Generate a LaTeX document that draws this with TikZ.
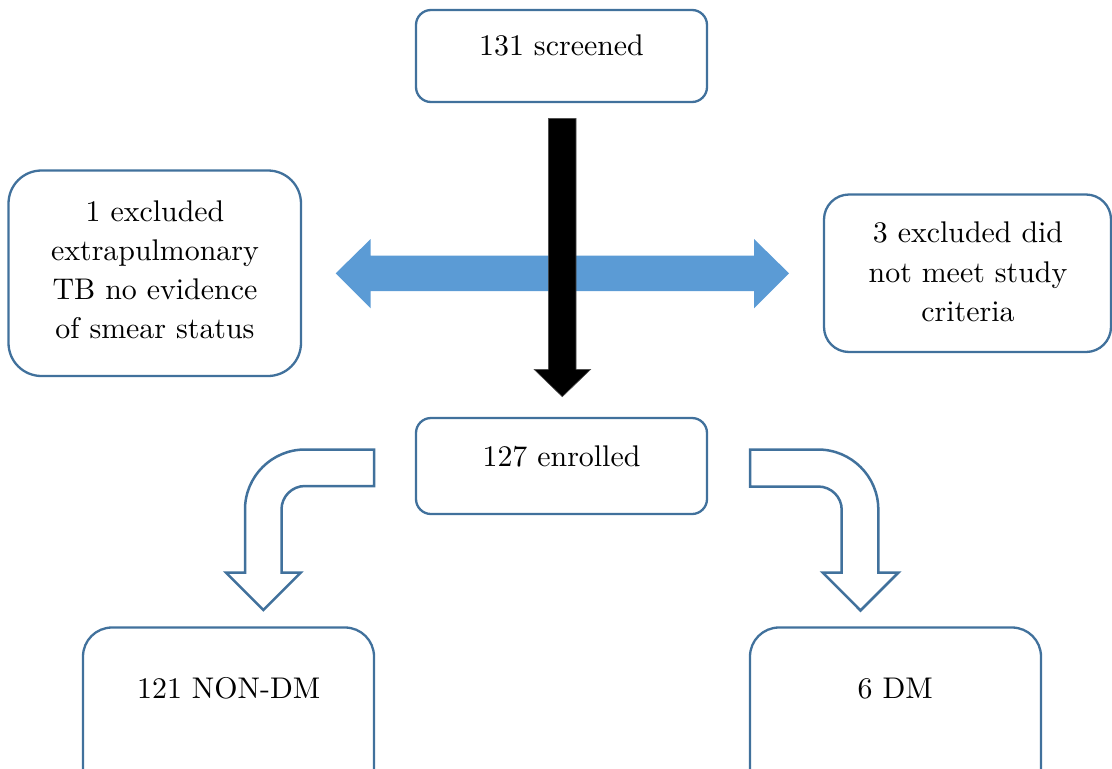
\documentclass[tikz,border=0pt]{standalone}
\usepackage{fontspec}
\setmainfont{lmroman10-regular}[Extension=.otf]
\definecolor{boxblue}{HTML}{41719C}
\definecolor{arrowblue}{HTML}{5B9BD5}
\begin{document}
\begin{tikzpicture}[x=1pt,y=-1pt,
  box/.style={draw=boxblue, line width=2.3pt, fill=white, inner sep=0pt},
  txt/.style={font=\fontsize{29.9}{39}\selectfont, inner sep=0pt, anchor=base},
  bendarrow/.style={draw=boxblue, line width=2.5pt, fill=white, line join=miter},
  blockarrow/.style={fill=arrowblue},
  mainarrow/.style={fill=black, draw=black!70, line width=0.6pt},
  ]
\useasboundingbox (0,0) rectangle (1112,769);
\clip (0,0) rectangle (1112,769);

% boxes
\node[box, rounded corners=15pt, minimum width=291pt, minimum height=92pt] (screened) at (561.5,56) {};
\node[box, rounded corners=33pt, minimum width=292.5pt, minimum height=205.5pt] (excl1) at (154.75,273.25) {};
\node[box, rounded corners=25pt, minimum width=287pt, minimum height=157.5pt] (excl3) at (967.5,273.25) {};
\node[box, rounded corners=15pt, minimum width=291pt, minimum height=96pt] (enrolled) at (561.5,466) {};
\node[box, rounded corners=29pt, minimum width=291pt, minimum height=179.5pt] (nondm) at (228.5,717.25) {};
\node[box, rounded corners=29pt, minimum width=291pt, minimum height=179.5pt] (dm) at (895.5,717.25) {};

% texts
\node[txt] (screenedT) at (561.5,55) {131 screened};
\node[txt] (excl1T) at (155,221.7) {\begin{tabular}[t]{@{}c@{}}1 excluded\\extrapulmonary\\TB no evidence\\of smear status\end{tabular}};
\node[txt, font=\fontsize{29.9}{39.7}\selectfont] (excl3T) at (968,242.3) {\begin{tabular}[t]{@{}c@{}}3 excluded did\\not meet study\\criteria\end{tabular}};
\node[txt] (enrolledT) at (561.5,466) {127 enrolled};
\node[txt] (nondmT) at (228.7,698) {121 NON-DM};
\node[txt] (dmT) at (895.3,698) {6 DM};

% blue double arrow (exclusions)
\path[blockarrow] (335.7,273.3) -- (370.7,239) -- (370.7,255.7) -- (754,255.7) -- (754,239)
  -- (789,273.3) -- (754,308.3) -- (754,291) -- (370.7,291) -- (370.7,308.3) -- cycle;

% black down arrow (screened -> enrolled)
\draw[mainarrow] (548.3,118.3) -- (576,118.3) -- (576,369.3) -- (590.7,369.3) -- (562.3,396.7)
  -- (534,369.3) -- (548.3,369.3) -- cycle;

% bent arrow to NON-DM
\draw[bendarrow] (374,449.5) -- (305,449.5) .. controls (271.9,449.5) and (245,476.4) .. (245,509.5)
  -- (245,572.7) -- (226,572.7) -- (263.3,610) -- (300.6,572.7) -- (281.5,572.7) -- (281.5,509.5)
  .. controls (281.5,496.5) and (292,486) .. (305,486) -- (374,486) -- cycle;

% bent arrow to DM
\draw[bendarrow] (750,449.5) -- (818,449.5) .. controls (851.3,449.5) and (878.3,476.4) .. (878.3,509.5)
  -- (878.3,572.5) -- (898.5,572.5) -- (860.5,610.5) -- (822.7,572.5) -- (841.7,572.5) -- (841.7,509.8)
  .. controls (841.7,496.8) and (831.1,486.5) .. (818,486.5) -- (750,486.5) -- cycle;
\end{tikzpicture}
\end{document}
